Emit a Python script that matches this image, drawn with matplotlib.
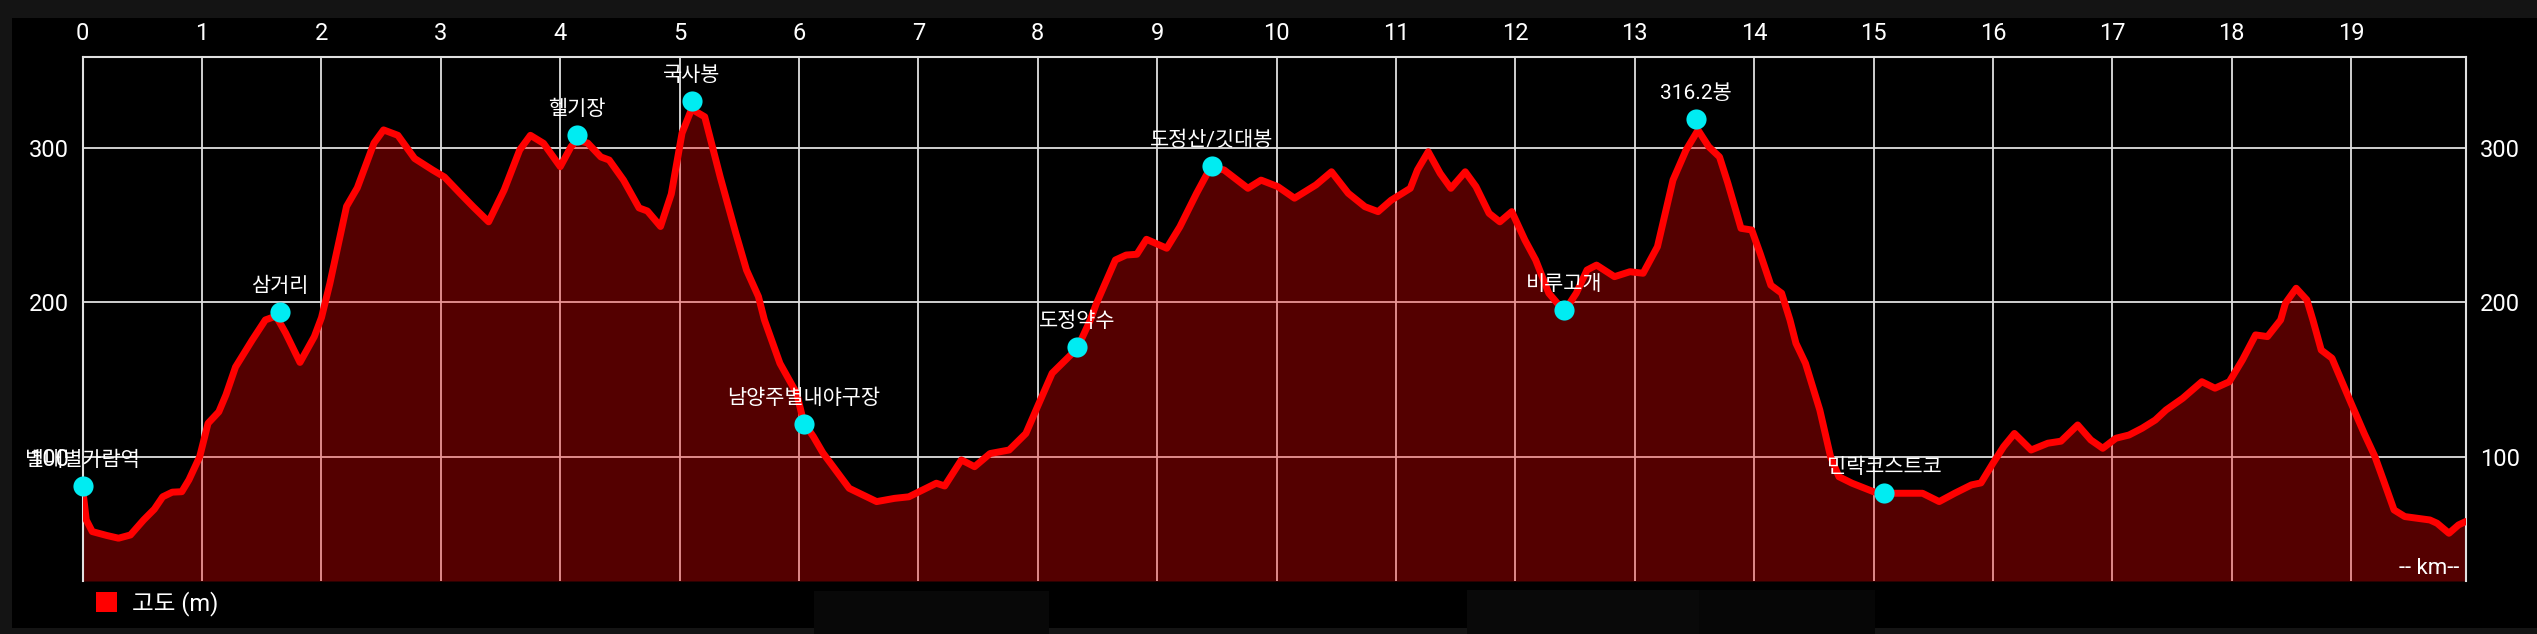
import matplotlib
matplotlib.use("Agg")
import matplotlib.pyplot as plt
from matplotlib.patches import Rectangle

plt.rcParams['font.family'] = ['Roboto', 'Noto Sans CJK KR', 'DejaVu Sans']

# ---- data ----
dist_km = [0.00, 0.03, 0.08, 0.20, 0.30, 0.40, 0.51, 0.60, 0.67, 0.75, 0.83, 0.89, 0.98,
           1.05, 1.14, 1.20, 1.28, 1.42, 1.53, 1.62, 1.70, 1.82, 1.94, 2.00, 2.07, 2.21,
           2.30, 2.44, 2.52, 2.64, 2.78, 2.93, 3.03, 3.16, 3.27, 3.40, 3.53, 3.66, 3.75,
           3.86, 4.00, 4.09, 4.14, 4.23, 4.34, 4.41, 4.53, 4.66, 4.73, 4.84, 4.93, 5.02,
           5.10, 5.21, 5.34, 5.47, 5.56, 5.66, 5.71, 5.84, 5.98, 6.04, 6.12, 6.20, 6.42,
           6.65, 6.80, 6.92, 7.15, 7.22, 7.36, 7.47, 7.60, 7.76, 7.90, 8.01, 8.12, 8.26,
           8.33, 8.44, 8.49, 8.65, 8.74, 8.83, 8.91, 9.08, 9.19, 9.33, 9.42, 9.46, 9.56,
           9.76, 9.87, 10.01, 10.15, 10.33, 10.46, 10.60, 10.74, 10.85, 10.96, 11.12,
           11.18, 11.27, 11.37, 11.46, 11.58, 11.67, 11.78, 11.87, 11.97, 12.08, 12.17,
           12.28, 12.41, 12.51, 12.60, 12.68, 12.83, 12.96, 13.07, 13.19, 13.32, 13.43,
           13.53, 13.62, 13.71, 13.78, 13.89, 13.98, 14.05, 14.14, 14.23, 14.30, 14.35,
           14.43, 14.55, 14.64, 14.71, 14.82, 15.00, 15.09, 15.41, 15.55, 15.68, 15.82,
           15.90, 16.00, 16.09, 16.18, 16.32, 16.46, 16.57, 16.71, 16.82, 16.92, 17.03,
           17.14, 17.25, 17.36, 17.45, 17.59, 17.75, 17.86, 17.98, 18.09, 18.20, 18.30,
           18.41, 18.45, 18.54, 18.63, 18.68, 18.75, 18.84, 19.00, 19.11, 19.20, 19.27,
           19.36, 19.45, 19.66, 19.72, 19.82, 19.90, 19.96]
elev_m = [79, 59, 51.5, 49, 47.2, 49.3, 59, 66, 74, 77, 77.3, 85, 100,
          121.6, 129, 140, 158, 175.5, 188.5, 191, 180, 161, 177.7, 190, 212, 262,
          274, 303, 311.5, 308, 293, 285.6, 281, 270.5, 261.8, 252, 272.6, 298.5, 308,
          302.8, 287.7, 300.6, 305, 303, 294, 292, 279, 261, 259, 249, 270, 309.4,
          325, 320, 281, 244.7, 220.8, 203.6, 188.5, 160.4, 141, 122, 113, 102.4, 79.5,
          70.9, 73, 74, 82.8, 81, 97.9, 93.5, 102, 104.3, 115, 134.6, 154, 164.7,
          170, 188.5, 199, 227.3, 230.5, 231, 240.7, 234.9, 248.8, 270.5, 283.4, 287, 285.6,
          273.7, 279, 274.8, 267.3, 275.9, 284.4, 270.5, 261.8, 258.6, 266, 273.7,
          285.6, 297.4, 283.4, 273.7, 284.4, 274.8, 257.5, 252, 258.6, 240.2, 227.3,
          205.8, 194, 205.8, 220.8, 224, 216.5, 219.7, 218.7, 235.9, 279, 298.5,
          311.4, 300.6, 294, 277, 247.8, 246.7, 231.6, 211, 205.8, 188.5, 173.4,
          160.4, 130.2, 100, 87, 82.8, 77.3, 76.3, 76.3, 70.9, 76.3, 81.7,
          83, 95.7, 106.5, 115, 104.3, 108.7, 110, 120.5, 110.8, 105.4, 111.9,
          114, 118.4, 123.7, 130.2, 137.8, 148.5, 144.3, 148.5, 162.6, 178.8, 177.7,
          188.5, 199.3, 209, 201.4, 188.5, 169, 163.7, 134.6, 115, 100, 85,
          65.5, 61.2, 59, 56.9, 50.4, 55.8, 58]

poi_km = [0.0, 1.65, 4.14, 5.10, 6.04, 8.33, 9.46, 12.41, 13.51, 15.09]
poi_elev = [81, 193.8, 308, 330, 121.2, 171.2, 288.3, 195, 318.4, 76.3]
poi_names = ['별내별가람역', '삼거리', '헬기장', '국사봉', '남양주별내야구장', '도정약수',
             '도정산/깃대봉', '비루고개', '316.2봉', '민락코스트코']

x_ticks = list(range(0, 20))
y_ticks = [100, 200, 300]
legend_label = '고도 (m)'
unit_label = '-- km--'

# ---- figure ----
W, H = 2537, 634
fig = plt.figure(figsize=(W / 100, H / 100), dpi=100, facecolor='#141414')

def fx(px):
    return px / W

def fy(py):
    return 1 - py / H

# black panel and screenshot artefact boxes (behind everything)
fig.patches.append(Rectangle((fx(12), fy(628)), 1 - fx(12), fy(18) - fy(628),
                             transform=fig.transFigure, facecolor='black', edgecolor='none', zorder=-10))
for x0, x1, y0, c in [(814, 1049, 591, '#080808'), (1467, 1699, 590, '#090909'),
                      (1699, 1875, 590, '#060606')]:
    fig.patches.append(Rectangle((fx(x0), 0), fx(x1) - fx(x0), fy(y0),
                                 transform=fig.transFigure, facecolor=c, edgecolor='none', zorder=-9))

left, right, top, bottom = 82.7, 2465.7, 57.3, 581
ax = fig.add_axes([fx(left), fy(bottom), fx(right) - fx(left), fy(top) - fy(bottom)])
ax.set_zorder(1)
ax.set_facecolor('black')

ymin, ymax = 19.5, 358.5
ax.set_xlim(0, 19.96)
ax.set_ylim(ymin, ymax)

ax.set_xticks(x_ticks)
ax.set_yticks(y_ticks)
ax.grid(True, color='#e0e0e0', linewidth=1.3, zorder=1)
ax.set_axisbelow(True)

ax.xaxis.tick_top()
ax.tick_params(axis='x', which='both', length=0, pad=8.6, labelsize=17, colors='white',
               labeltop=True, labelbottom=False)
ax.tick_params(axis='y', which='both', length=0, pad=10, labelsize=17, colors='white',
               labelleft=True, labelright=True)

for s in ['top', 'right', 'left']:
    ax.spines[s].set_color('#e0e0e0')
    ax.spines[s].set_linewidth(1.5)
ax.spines['bottom'].set_visible(False)

ax.fill_between(dist_km, ymin, elev_m, color='red', alpha=0.333, linewidth=0, zorder=2)
ax.plot(dist_km, elev_m, color='#ff0000', linewidth=5.0, solid_joinstyle='round',
        solid_capstyle='round', zorder=3)

ax.plot(poi_km, poi_elev, linestyle='none', marker='o', markersize=14.5,
        markerfacecolor='#00ecf2', markeredgecolor='none', zorder=4, clip_on=False)
for k, e, name in zip(poi_km, poi_elev, poi_names):
    ax.annotate(name, (k, e), xytext=(0, 18.5), textcoords='offset points',
                ha='center', va='center', color='white', fontsize=15, zorder=5,
                annotation_clip=False)

ax.text(0.9972, 0.023, unit_label, transform=ax.transAxes, ha='right', va='center',
        color='white', fontsize=16, zorder=5)

# legend
fig.patches.append(Rectangle((fx(96), fy(612)), fx(117) - fx(96), fy(592) - fy(612),
                             transform=fig.transFigure, facecolor='#ff0000', edgecolor='none', zorder=2))
fig.text(fx(132), fy(604), legend_label, ha='left', va='center', color='white', fontsize=17)

fig.savefig('out.png', dpi=100, facecolor=fig.get_facecolor())
